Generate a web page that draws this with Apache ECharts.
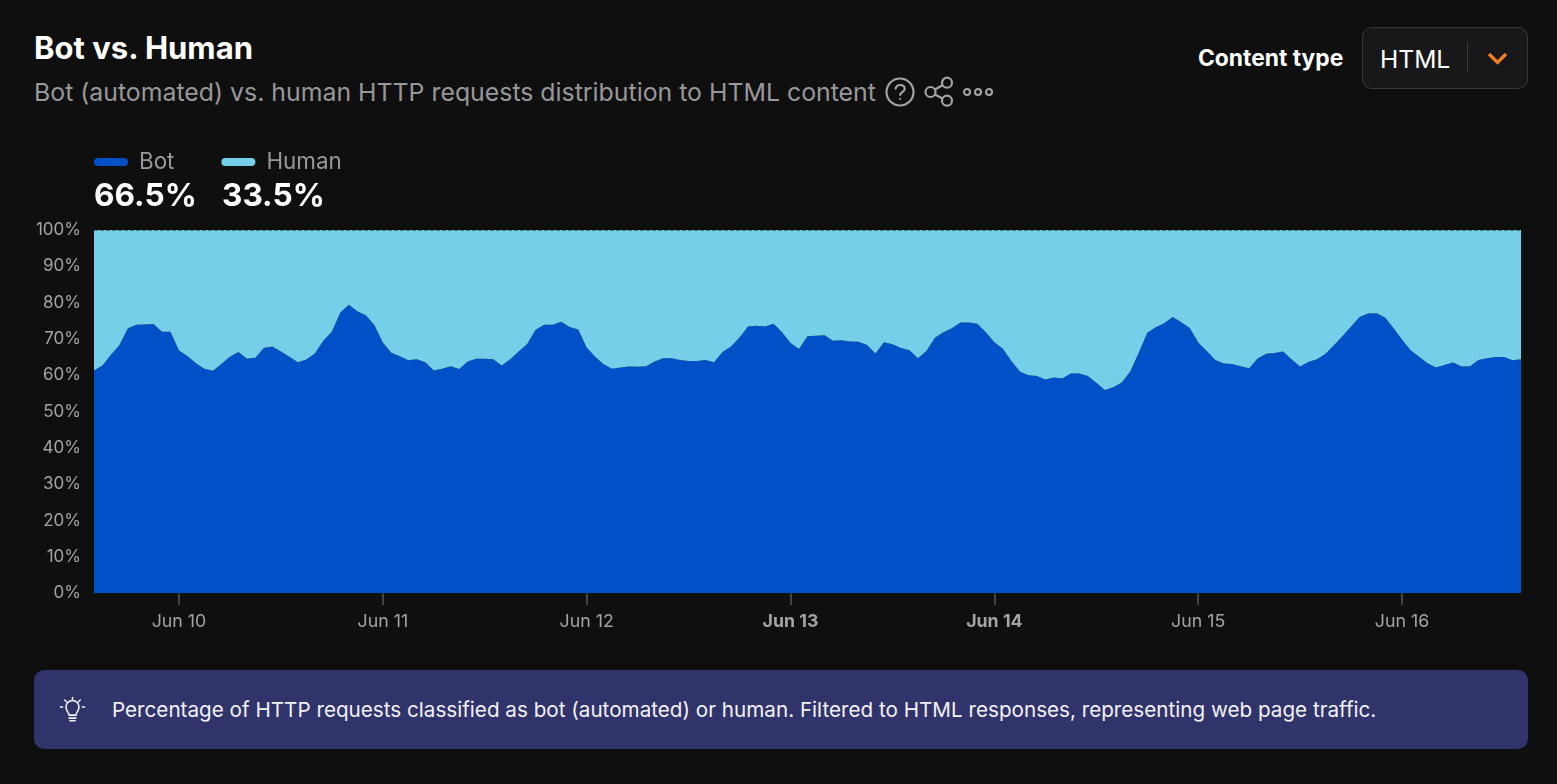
<!DOCTYPE html>
<html lang="en">
<head>
<meta charset="utf-8">
<title>Bot vs. Human</title>
<script src="https://cdn.jsdelivr.net/npm/echarts@6/dist/echarts.min.js"></script>
<style>
  html, body { margin: 0; padding: 0; background: #0f0f10; width: 1557px; height: 784px; overflow: hidden; font-family: Inter, "Noto Sans", sans-serif; }
  .abs { position: absolute; white-space: nowrap; }
  #chart { position: absolute; left: 0; top: 130px; width: 1557px; height: 510px; }
  #title { left: 34px; top: 30px; font-size: 31px; line-height: 36px; font-weight: 700; color: #fff; }
  #subtitle { left: 34px; top: 76px; font-size: 24.85px; line-height: 32px; color: #98989a; }
  #ctlabel { left: 1198px; top: 44px; font-size: 22.8px; line-height: 28px; font-weight: 700; color: #fff; }
  #select { left: 1362px; top: 27px; width: 164px; height: 60px; border: 1.5px solid #38383a; border-radius: 10px; background: #18181a; }
  #selecttext { left: 1380px; top: 44px; font-size: 24.6px; line-height: 30px; color: #fff; }
  #selectsep { left: 1467px; top: 42px; width: 1px; height: 31px; background: #3a3a3c; }
  #banner { left: 34px; top: 670px; width: 1494px; height: 79px; border-radius: 10px; background: #31336b; }
  #bannertext { left: 112px; top: 696px; font-size: 20.66px; line-height: 28px; color: #f2f2f6; }
  svg { position: absolute; overflow: visible; fill: none; }
</style>
</head>
<body>
<div id="title" class="abs">Bot vs. Human</div>
<div id="subtitle" class="abs">Bot (automated) vs. human HTTP requests distribution to HTML content</div>

<svg style="left:885px;top:77px" width="31" height="31" stroke="#a3a3a5" stroke-width="2.2">
  <circle cx="15" cy="15" r="13.5"/>
  <path d="M10.6 11.6c.5-2.4 2.300-3.600 4.600-3.600 2.600 0 4.500 1.500 4.500 3.800 0 3.200-4.500 3.400-4.500 6.200" stroke-linecap="round"/>
  <circle cx="15.2" cy="22" r="1.1" fill="#a3a3a5" stroke="none"/>
</svg>
<svg style="left:924px;top:77px" width="30" height="30" stroke="#a3a3a5" stroke-width="2.2">
  <circle cx="6.5" cy="15" r="5"/><circle cx="23" cy="5.7" r="5"/><circle cx="23" cy="23.7" r="5"/>
  <path d="M11 12.5l7.500-4.300M11 17.500l7.500 4"/>
</svg>
<svg style="left:963px;top:87px" width="30" height="10" stroke="#a3a3a5" stroke-width="2.1">
  <circle cx="4" cy="5" r="3"/><circle cx="15" cy="5" r="3"/><circle cx="26" cy="5" r="3"/>
</svg>

<div id="ctlabel" class="abs">Content type</div>
<div id="select" class="abs"></div>
<div id="selecttext" class="abs">HTML</div>
<div id="selectsep" class="abs"></div>
<svg style="left:1487px;top:52px" width="21" height="13" stroke="#f38020" stroke-width="3.2">
  <path d="M2 2l8.500 8.500L19 2"/>
</svg>

<div id="chart"></div>

<div id="banner" class="abs"></div>
<svg style="left:60px;top:696px" width="25" height="27" viewBox="0 0 29 29" stroke="#f2f2f6" stroke-width="1.8" stroke-linecap="round">
  <path d="M14.500 0.500v3.500M3 11.500h-2.500M28.500 11.500h-2.500M5.500 3.500l2 2M23.500 3.500l-2 2"/>
  <path d="M10.500 21c0-3-3.500-4.500-3.500-9.500a7.500 7.500 0 0 1 15 0c0 5-3.500 6.500-3.500 9.500z"/>
  <path d="M10.500 24.500h8M11.500 27.500h6"/>
</svg>
<div id="bannertext" class="abs">Percentage of HTTP requests classified as bot (automated) or human. Filtered to HTML responses, representing web page traffic.</div>

<script>
// Hourly share of requests, Jun 9 14:00 through Jun 16 14:00 UTC
const botShare = [
  61.3,62.7,65.6,68.3,72.9,73.9,74.0,74.1,72.0,72.0,66.8,65.3,63.3,61.8,61.2,63.1,65.1,66.4,64.5,64.8,67.5,67.9,66.5,65.1,
  63.6,64.3,66.0,69.5,72.0,77.3,79.4,77.6,76.5,73.8,69.0,66.2,65.2,64.1,64.4,63.6,61.3,61.8,62.5,61.7,63.8,64.5,64.5,64.4,
  62.7,64.4,66.5,68.6,72.5,73.9,73.9,74.7,73.3,72.6,67.6,65.1,63.0,61.8,62.1,62.4,62.3,62.5,63.8,64.7,64.7,64.2,63.9,63.9,
  64.2,63.6,66.4,67.9,70.4,73.4,73.6,73.4,74.2,71.8,68.9,67.2,70.7,70.9,71.0,69.5,69.6,69.3,69.2,68.3,66.0,69.1,68.5,67.5,
  66.9,64.7,66.7,70.3,71.8,72.9,74.5,74.5,74.2,71.8,69.1,67.3,63.9,61.0,60.0,59.8,58.8,59.4,59.1,60.5,60.5,59.8,57.9,55.9,
  56.7,58.0,61.0,66.2,71.7,73.2,74.3,76.0,74.6,73.0,69.0,66.7,64.2,63.2,63.1,62.5,61.9,64.6,65.9,66.1,66.5,64.3,62.4,63.7,
  64.4,65.9,68.3,70.8,73.4,76.0,77.0,77.1,75.9,72.9,69.8,66.9,65.1,63.3,62.1,62.8,63.5,62.4,62.5,64.2,64.7,65.0,65.0,64.1,64.4
];
const humanShare = [
  38.7,37.3,34.4,31.7,27.1,26.1,26.0,25.9,28.0,28.0,33.2,34.7,36.7,38.2,38.8,36.9,34.9,33.6,35.5,35.2,32.5,32.1,33.5,34.9,
  36.4,35.7,34.0,30.5,28.0,22.7,20.6,22.4,23.5,26.2,31.0,33.8,34.8,35.9,35.6,36.4,38.7,38.2,37.5,38.3,36.2,35.5,35.5,35.6,
  37.3,35.6,33.5,31.4,27.5,26.1,26.1,25.3,26.7,27.4,32.4,34.9,37.0,38.2,37.9,37.6,37.7,37.5,36.2,35.3,35.3,35.8,36.1,36.1,
  35.8,36.4,33.6,32.1,29.6,26.6,26.4,26.6,25.8,28.2,31.1,32.8,29.3,29.1,29.0,30.5,30.4,30.7,30.8,31.7,34.0,30.9,31.5,32.5,
  33.1,35.3,33.3,29.7,28.2,27.1,25.5,25.5,25.8,28.2,30.9,32.7,36.1,39.0,40.0,40.2,41.2,40.6,40.9,39.5,39.5,40.2,42.1,44.1,
  43.3,42.0,39.0,33.8,28.3,26.8,25.7,24.0,25.4,27.0,31.0,33.3,35.8,36.8,36.9,37.5,38.1,35.4,34.1,33.9,33.5,35.7,37.6,36.3,
  35.6,34.1,31.7,29.2,26.6,24.0,23.0,22.9,24.1,27.1,30.2,33.1,34.9,36.7,37.9,37.2,36.5,37.6,37.5,35.8,35.3,35.0,35.0,35.9,35.6
];
const seriesNames = ['Bot', 'Human'];
const seriesColors = ['#0050c8', '#75cfe9'];
const summaryValues = ['66.5%', '33.5%'];
const dayLabels = ['Jun 10', 'Jun 11', 'Jun 12', 'Jun 13', 'Jun 14', 'Jun 15', 'Jun 16'];
const boldDays = ['Jun 13', 'Jun 14'];
const firstHour = 14;

// One category per hour; midnights carry the day label, other hours stay blank on the axis
const hours = botShare.map((_, i) => {
  const h = firstHour + i;
  return h % 24 === 0 ? dayLabels[h / 24 - 1] : 'Jun ' + (9 + Math.floor(h / 24)) + ' ' + (h % 24) + ':00';
});
const isMidnight = (i) => (firstHour + i) % 24 === 0;

const chart = echarts.init(document.getElementById('chart'), null, { renderer: 'canvas' });
const labelFont = 'Inter, "Noto Sans", sans-serif';

chart.setOption({
  backgroundColor: 'transparent',
  animation: false,
  textStyle: { fontFamily: labelFont },
  legend: {
    left: 94, top: 21, padding: 0,
    // Pill-shaped swatch, fully rounded at both ends
    icon: 'path://M4 0H30A4 4 0 0 1 30 8H4A4 4 0 0 1 4 0Z',
    itemWidth: 34, itemHeight: 8, itemGap: 47,
    selectedMode: false,
    data: seriesNames,
    textStyle: { color: '#98989a', fontSize: 22.4, fontFamily: labelFont, padding: [0, 0, 0, 6] }
  },
  graphic: summaryValues.map((v, i) => ({
    type: 'text',
    left: [94, 222][i],
    top: 50,
    style: { text: v, fill: '#ffffff', font: '700 31.6px ' + labelFont }
  })),
  grid: { left: 94, right: 36, top: 100, height: 363 },
  xAxis: {
    type: 'category',
    data: hours,
    boundaryGap: false,
    axisLine: { show: false },
    axisTick: {
      alignWithLabel: true,
      interval: (i) => isMidnight(i),
      length: 12,
      lineStyle: { color: '#555557', width: 1.5 }
    },
    axisLabel: {
      interval: (i) => isMidnight(i),
      margin: 20,
      color: '#a3a3a5',
      fontSize: 17.8,
      fontFamily: labelFont,
      hideOverlap: false,
      formatter: (v) => boldDays.includes(v) ? '{b|' + v + '}' : v,
      rich: { b: { fontWeight: 700, fontSize: 17.800, color: '#a3a3a5', fontFamily: labelFont } }
    },
    splitLine: { show: false }
  },
  yAxis: {
    type: 'value',
    min: 0, max: 100, interval: 10,
    axisLine: { show: true, lineStyle: { color: '#3a3a3c', width: 1 } },
    axisTick: { show: false },
    axisLabel: { color: '#a3a3a5', fontSize: 17, margin: 13, fontFamily: labelFont, formatter: '{value}%' },
    splitLine: { show: false }
  },
  series: [
    { name: seriesNames[0], type: 'line', stack: 'share', data: botShare, color: seriesColors[0],
      showSymbol: false, symbol: 'none', sampling: false, lineStyle: { width: 0 },
      areaStyle: { color: seriesColors[0], opacity: 1 } },
    { name: seriesNames[1], type: 'line', stack: 'share', data: humanShare, color: seriesColors[1],
      showSymbol: false, symbol: 'none', sampling: false, lineStyle: { width: 0 },
      areaStyle: { color: seriesColors[1], opacity: 1 },
      // Faint dashed rules along the 0% and 100% edges of the plot
      markLine: {
        silent: true, symbol: 'none', label: { show: false },
        lineStyle: { type: 'dashed', color: 'rgba(15,15,16,0.45)', width: 1 },
        data: [{ yAxis: 0 }, { yAxis: 100 }]
      } }
  ]
});
</script>
</body>
</html>
